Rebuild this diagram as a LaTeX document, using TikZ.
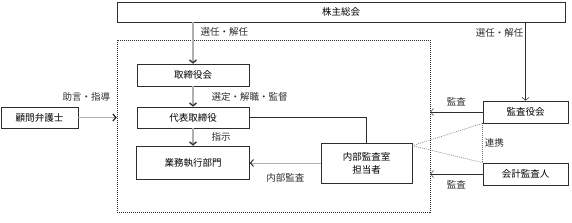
\documentclass[tikz,border=0pt]{standalone}
\usepackage{fontspec}
\setmainfont{Noto Sans CJK JP}
\usetikzlibrary{arrows.meta,positioning}
\definecolor{BoxBlack}{RGB}{45,45,45}
\definecolor{FeedGray}{RGB}{175,175,175}
\definecolor{LinkGray}{RGB}{110,110,110}
\tikzset{
  orgbox/.style={draw=BoxBlack,fill=white,line width=0.6pt,inner sep=0pt,align=center,
    font=\fontsize{9.5}{13}\selectfont},
  lbl/.style={text=BoxBlack,inner sep=2pt,font=\fontsize{9.5}{11}\selectfont},
  feed/.style={->,FeedGray,line width=1.3pt},
  plain/.style={->,BoxBlack,line width=0.5pt},
  linkline/.style={LinkGray,line width=0.5pt,dash pattern=on 1pt off 1pt},
}
\begin{document}
\begin{tikzpicture}[x=1pt,y=-1pt,>={Straight Barb[length=3pt,width=7pt,color=BoxBlack]}]
  \useasboundingbox (0,0) rectangle (572,222);
  % company frame
  \node[draw=BoxBlack,line width=0.5pt,dash pattern=on 1pt off 1pt,
    minimum width=313pt,minimum height=172pt] (inner) at (273.5,126) {};
  \node[orgbox,minimum width=448pt,minimum height=20pt] (soukai) at (341,12) {株主総会};
  \node[orgbox,minimum width=112pt,minimum height=22pt] (trb) at (193,75) {取締役会};
  \node[orgbox,minimum width=112pt,minimum height=21pt] (daihyo) at (193,117.5) {代表取締役};
  \node[orgbox,minimum width=113pt,minimum height=33pt] (gyomu) at (193,162.5) {業務執行部門};
  \node[orgbox,minimum width=77pt,minimum height=21pt] (komon) at (39.5,117.5) {顧問弁護士};
  \node[orgbox,minimum width=91pt,minimum height=40pt] (naibu) at (366.5,163) {内部監査室\\担当者};
  \node[orgbox,minimum width=85pt,minimum height=22pt] (kansayaku) at (525.5,112) {監査役会};
  \node[orgbox,minimum width=85pt,minimum height=22pt] (kaikei) at (525.5,174) {会計監査人};
  % election
  \draw[feed] (soukai.south -| trb.north) -- (trb.north)
    node[lbl,pos=0.24,right,xshift=5pt]{選任・解任};
  \draw[plain] (soukai.south -| kansayaku.north) -- (kansayaku.north)
    node[lbl,pos=0.13,left]{選任・解任};
  % inside the company
  \draw[feed] (trb.south) -- (daihyo.north) node[lbl,midway,right,xshift=16pt]{選定・解職・監督};
  \draw[feed] (daihyo.south) -- (gyomu.north) node[lbl,midway,right,xshift=16pt]{指示};
  \draw[BoxBlack,line width=0.5pt] (daihyo.east) -| (naibu.north);
  \draw[feed,line width=1pt] (naibu.west) -- (gyomu.east |- naibu.west)
    node[lbl,midway,below,yshift=-8pt]{内部監査};
  \draw[feed] (komon.east) -- (komon.east -| inner.west)
    node[lbl,pos=1,above left,xshift=-4pt,yshift=14pt]{助言・指導};
  % audit
  \draw[plain] (kansayaku.west) -- (kansayaku.west -| inner.east)
    node[lbl,midway,above,yshift=4pt]{監査};
  \draw[plain] (kaikei.west) -- (kaikei.west -| inner.east)
    node[lbl,midway,below,yshift=-4pt]{監査};
  \coordinate (linkpt) at ([yshift=-3pt]naibu.north east);
  \draw[linkline] (linkpt) -- (kansayaku.south west);
  \draw[linkline] (linkpt) -- (kaikei.north west);
  \draw[linkline] (kansayaku.south west) -- (kaikei.north west)
    node[lbl,midway,right]{連携};
\end{tikzpicture}
\end{document}
